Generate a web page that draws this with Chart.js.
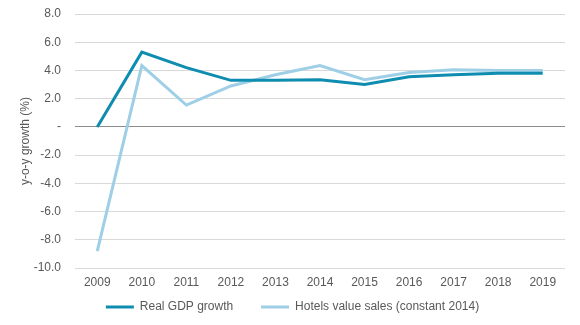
<!DOCTYPE html>
<html>
<head>
<meta charset="utf-8">
<script src="https://cdn.jsdelivr.net/npm/chart.js@4"></script>
<style>
  html, body { margin: 0; padding: 0; background: #fff; }
  #wrap { width: 580px; height: 325px; }
</style>
</head>
<body>
<div id="wrap"><canvas id="chart" width="580" height="325"></canvas></div>
<script>
const years = ['2009', '2010', '2011', '2012', '2013', '2014', '2015', '2016', '2017', '2018', '2019'];
const gdpGrowth = [0, 5.3, 4.2, 3.3, 3.3, 3.35, 3.0, 3.55, 3.7, 3.8, 3.8];
const hotelSales = [-8.8, 4.35, 1.55, 2.9, 3.7, 4.35, 3.35, 3.85, 4.05, 4.0, 4.0];

const grey = '#595959';
const font = { family: 'Liberation Sans, Arial, sans-serif', size: 12 };

// shift the legend row sideways after layout
const legendNudge = {
  id: 'legendNudge',
  afterLayout(chart) {
    const l = chart.legend;
    l.left += 10;
    l.right += 10;
  }
};

new Chart(document.getElementById('chart'), {
  type: 'line',
  data: {
    labels: years,
    datasets: [
      {
        label: 'Real GDP growth',
        data: gdpGrowth,
        borderColor: '#0f8db0',
        backgroundColor: '#0f8db0',
        borderWidth: 3,
        pointRadius: 0,
        pointStyle: 'line',
        tension: 0
      },
      {
        label: 'Hotels value sales (constant 2014)',
        data: hotelSales,
        borderColor: '#9fcfe6',
        backgroundColor: '#9fcfe6',
        borderWidth: 3,
        pointRadius: 0,
        pointStyle: 'line',
        tension: 0
      }
    ]
  },
  plugins: [legendNudge],
  options: {
    responsive: false,
    animation: false,
    layout: { padding: { top: 14, right: 15, left: 0, bottom: 2 } },
    plugins: {
      legend: {
        position: 'bottom',
        labels: {
          usePointStyle: true,
          pointStyleWidth: 28,
          boxHeight: 3,
          padding: 4.5,
          color: grey,
          font: font,
          // wider gap after the first entry
          generateLabels: chart => {
            const items = Chart.defaults.plugins.legend.labels.generateLabels(chart);
            items[0].text += '       ';
            return items;
          }
        }
      },
      tooltip: { enabled: false }
    },
    scales: {
      x: {
        offset: true,
        grid: { display: false, drawTicks: false, tickLength: 0 },
        border: { display: false },
        ticks: { color: grey, font: font, maxRotation: 0, padding: 7 }
      },
      y: {
        min: -10,
        max: 8,
        ticks: {
          stepSize: 2,
          color: grey,
          font: font,
          padding: 14,
          callback: v => v === 0 ? '-' : v.toFixed(1)
        },
        grid: {
          color: ctx => ctx.tick && ctx.tick.value === 0 ? '#8c8c8c' : '#d9d9d9',
          drawTicks: false
        },
        border: { display: false },
        title: {
          display: true,
          text: 'y-o-y growth (%)',
          color: grey,
          font: font,
          padding: { top: 18, bottom: 0 }
        },
        afterFit: scale => {
          scale.width = 75;
          scale.paddingTop = 0;
          scale.paddingBottom = 0;
        }
      }
    }
  }
});
</script>
</body>
</html>
